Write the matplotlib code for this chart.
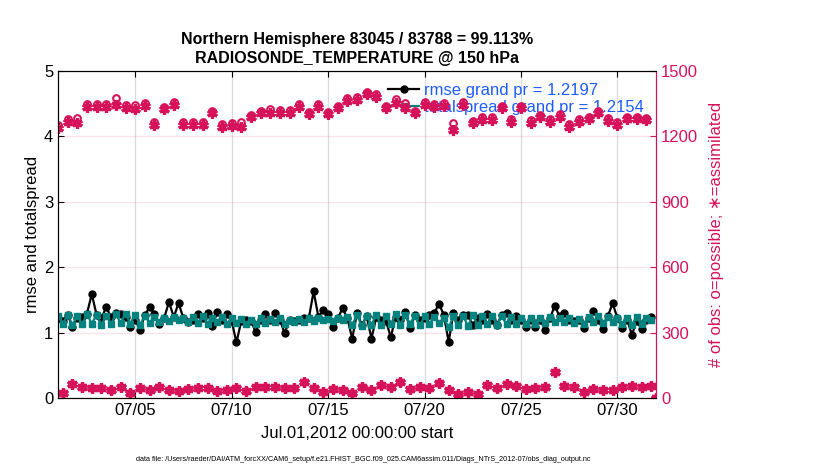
import matplotlib

matplotlib.use("Agg")
import matplotlib.pyplot as plt  # noqa: E402
import matplotlib.dates as mdates  # noqa: E402
import pandas as pd  # noqa: E402

plt.rcParams["font.family"] = ["Liberation Sans", "DejaVu Sans"]

# 6-hourly bins, 07/01 00Z .. 07/31 18Z
rmse = [
    1.23, 1.18, 1.27, 1.09, 1.22, 1.24, 1.29, 1.59, 1.27, 1.22,
    1.39, 1.24, 1.30, 1.29, 1.24, 1.09, 1.20, 1.04, 1.27, 1.39,
    1.29, 1.14, 1.22, 1.47, 1.24, 1.45, 1.22, 1.17, 1.20, 1.29,
    1.22, 1.30, 1.10, 1.31, 1.20, 1.28, 1.18, 0.85, 1.18, 1.20,
    1.18, 1.01, 1.20, 1.28, 1.20, 1.30, 1.20, 0.99, 1.20, 1.18,
    1.20, 1.22, 1.22, 1.63, 1.24, 1.35, 1.29, 1.09, 1.22, 1.37,
    1.22, 0.91, 1.30, 1.12, 1.25, 0.91, 1.24, 1.20, 1.18, 0.93,
    1.24, 1.20, 1.31, 1.07, 1.27, 1.20, 1.22, 1.27, 1.30, 1.44,
    1.27, 0.86, 1.30, 1.20, 1.27, 1.27, 1.12, 1.22, 1.20, 1.28,
    1.20, 1.12, 1.27, 1.30, 1.20, 1.25, 1.20, 1.09, 1.20, 1.09,
    1.20, 1.04, 1.22, 1.41, 1.25, 1.30, 1.20, 1.18, 1.20, 1.07,
    1.22, 1.33, 1.20, 1.05, 1.25, 1.45, 1.22, 1.07, 1.20, 0.97,
    1.18, 1.05, 1.20, 1.24,
]
spread = [
    1.26, 1.14, 1.27, 1.12, 1.25, 1.13, 1.28, 1.14, 1.27, 1.12,
    1.26, 1.13, 1.28, 1.15, 1.29, 1.14, 1.27, 1.12, 1.26, 1.15,
    1.24, 1.16, 1.23, 1.18, 1.24, 1.19, 1.22, 1.16, 1.24, 1.15,
    1.25, 1.14, 1.23, 1.16, 1.24, 1.13, 1.22, 1.15, 1.21, 1.14,
    1.20, 1.13, 1.22, 1.15, 1.21, 1.16, 1.22, 1.14, 1.20, 1.16,
    1.21, 1.17, 1.22, 1.18, 1.22, 1.19, 1.21, 1.18, 1.23, 1.19,
    1.24, 1.12, 1.27, 1.10, 1.26, 1.12, 1.27, 1.11, 1.25, 1.13,
    1.28, 1.12, 1.27, 1.14, 1.26, 1.11, 1.25, 1.13, 1.24, 1.15,
    1.22, 1.08, 1.25, 1.12, 1.26, 1.10, 1.27, 1.11, 1.25, 1.13,
    1.26, 1.12, 1.25, 1.13, 1.24, 1.14, 1.22, 1.13, 1.23, 1.14,
    1.22, 1.15, 1.24, 1.16, 1.23, 1.17, 1.22, 1.15, 1.21, 1.13,
    1.24, 1.16, 1.25, 1.15, 1.24, 1.17, 1.23, 1.13, 1.22, 1.12,
    1.24, 1.13, 1.23, 1.20,
]

# obs counts at 00Z/12Z (07/01 00Z .. 08/01 00Z)
assim_00_12 = [
    1237, 1268, 1263, 1336, 1336, 1336, 1345, 1329, 1324, 1340,
    1252, 1324, 1345, 1252, 1252, 1252, 1306, 1245, 1248, 1245,
    1288, 1306, 1306, 1309, 1309, 1336, 1301, 1336, 1301, 1329,
    1362, 1367, 1393, 1382, 1329, 1352, 1329, 1306, 1345, 1336,
    1340, 1229, 1345, 1260, 1275, 1275, 1329, 1268, 1329, 1263,
    1288, 1268, 1291, 1245, 1268, 1278, 1306, 1271, 1252, 1278,
    1278, 1273, 0,
]
possible_00_12 = [
    1250, 1282, 1285, 1348, 1348, 1350, 1378, 1342, 1345, 1352,
    1264, 1336, 1358, 1264, 1264, 1264, 1318, 1257, 1260, 1265,
    1300, 1318, 1326, 1321, 1321, 1348, 1313, 1348, 1313, 1341,
    1374, 1379, 1405, 1394, 1341, 1372, 1352, 1318, 1357, 1348,
    1352, 1262, 1357, 1272, 1287, 1287, 1341, 1280, 1341, 1275,
    1300, 1280, 1303, 1257, 1280, 1290, 1318, 1283, 1264, 1290,
    1290, 1285, 0,
]
# obs counts at 06Z/18Z (possible == assimilated)
assim_06_18 = [
    25, 64, 49, 44, 44, 37, 52, 24, 44, 37,
    52, 37, 33, 40, 44, 44, 33, 37, 44, 33,
    52, 52, 52, 44, 44, 75, 44, 28, 40, 37,
    24, 49, 37, 59, 49, 75, 40, 52, 44, 71,
    35, 21, 26, 21, 59, 44, 64, 55, 40, 44,
    52, 121, 55, 52, 28, 40, 35, 35, 49, 55,
    49, 55,
]
possible_06_18 = list(assim_06_18)

t_all = pd.date_range("2012-07-01 00:00", periods=len(rmse), freq="6h")
t_00_12 = pd.date_range("2012-07-01 00:00", periods=len(assim_00_12), freq="12h")
t_06_18 = pd.date_range("2012-07-01 06:00", periods=len(assim_06_18), freq="12h")

PINK = "#d6125a"
TEAL = "#00837f"
BLUE = "#1f5cff"

fig = plt.figure(figsize=(8.3, 4.7), dpi=100)
ax = fig.add_axes([0.0699, 0.153, 0.7205, 0.696])
ax2 = ax.twinx()

ax.plot(t_all, rmse, "-o", color="black", lw=1.6, ms=5,
        label="rmse grand pr = 1.2197")
ax.plot(t_all, spread, "-s", color=TEAL, lw=1.6, ms=4.5,
        label="totalspread grand pr = 1.2154")

star = (6, 2, 0)
for t, pos, asm in ((t_00_12, possible_00_12, assim_00_12),
                    (t_06_18, possible_06_18, assim_06_18)):
    ax2.plot(t, pos, "o", ls="none", mfc="none", mec=PINK, mew=1.5, ms=4.8)
    ax2.plot(t, asm, marker=star, ls="none", color=PINK, mec=PINK,
             mew=2.3, ms=7.5)

ax.set_xlim(pd.Timestamp("2012-07-01"), pd.Timestamp("2012-08-01"))
ax.set_ylim(0, 5)
ax2.set_ylim(0, 1500)
ax2.set_yticks(range(0, 1501, 300))
ax.set_yticks(range(0, 6))

ax.set_xticks(pd.date_range("2012-07-05", "2012-07-30", freq="5D"))
ax.xaxis.set_major_formatter(mdates.DateFormatter("%m/%d"))
ax.grid(axis="x", color="0.86", lw=0.9)
ax2.grid(axis="y", color=PINK, alpha=0.12, lw=0.9)
ax.set_axisbelow(True)

ax.tick_params(direction="in", labelsize=12, length=4, top=True)
ax2.tick_params(direction="in", labelsize=12, length=4, colors=PINK)
ax2.spines["right"].set_color(PINK)
ax.spines["right"].set_color(PINK)

ax.set_ylabel("rmse and totalspread", fontsize=12, labelpad=3)
ax2.set_ylabel("# of obs: o=possible; \u2217=assimilated", fontsize=12,
               color=PINK, labelpad=8)
ax.set_xlabel("Jul.01,2012 00:00:00 start", fontsize=12, labelpad=6)

ax.set_title("Northern Hemisphere 83045 / 83788 = 99.113%\n"
             "RADIOSONDE_TEMPERATURE @ 150 hPa",
             fontsize=11.5, fontweight="bold", pad=6, linespacing=1.3)

leg = ax.legend(loc="upper right", bbox_to_anchor=(1.0, 1.0), frameon=False,
                fontsize=12, labelcolor=BLUE, handlelength=1.9,
                handletextpad=0.3, labelspacing=0.15, borderaxespad=0.3)

fig.text(0.438, 0.022,
         "data file: /Users/raeder/DAI/ATM_forcXX/CAM6_setup/"
         "f.e21.FHIST_BGC.f09_025.CAM6assim.011/Diags_NTrS_2012-07/"
         "obs_diag_output.nc",
         ha="center", va="center", fontsize=5.2)

fig.savefig("out.png", dpi=100)
